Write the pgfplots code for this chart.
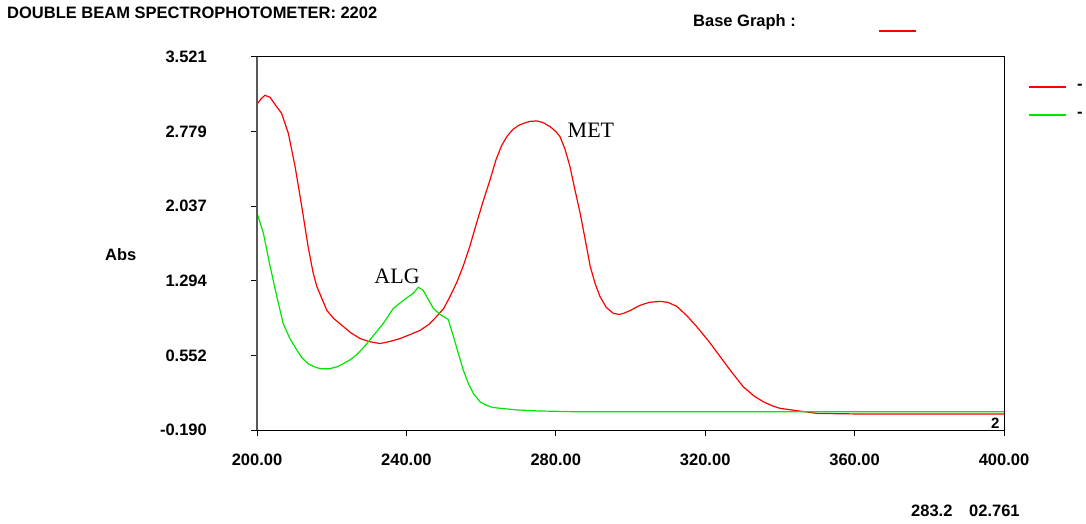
\documentclass[border=0pt]{standalone}
\usepackage{pgfplots}
\pgfplotsset{compat=1.18}
\usepackage{fontspec}
\setmainfont{Liberation Sans}
\newfontfamily\sansb{Liberation Sans}
\newfontfamily\timesf{Liberation Serif}
\definecolor{specred}{RGB}{255,0,0}
\definecolor{specgreen}{RGB}{0,230,0}
\newcommand{\lbl}{\sansb\bfseries\fontsize{16.5}{17}\selectfont}
\begin{document}
\begin{tikzpicture}[x=1pt,y=1pt]
\useasboundingbox (0,0) rectangle (1086,523);
% header texts
\node[anchor=west,inner sep=0pt,font=\lbl] at (7,510) {DOUBLE BEAM SPECTROPHOTOMETER: 2202};
\node[anchor=west,inner sep=0pt,font=\lbl] at (693,501) {Base Graph :};
\draw[specred,line width=1.2pt] (879,492) -- (916,492);
\draw[specred,line width=1.2pt] (1029,436) -- (1066,436);
\draw[specgreen,line width=1.2pt] (1029,408) -- (1066,408);
\node[anchor=west,inner sep=0pt,font=\lbl] at (1077,436) {-};
\node[anchor=west,inner sep=0pt,font=\lbl] at (1077,408) {-};
\node[anchor=west,inner sep=0pt,font=\lbl] at (105,268) {Abs};
\node[anchor=west,inner sep=0pt,font=\lbl] at (911,12) {283.2};
\node[anchor=west,inner sep=0pt,font=\lbl] at (969,12) {02.761};
\begin{axis}[
  at={(257pt,93pt)}, anchor=south west,
  width=747pt, height=373pt, scale only axis,
  xmin=200, xmax=400, ymin=-0.190, ymax=3.521,
  xtick={200,240,280,320,360,400},
  xticklabels={200.00,240.00,280.00,320.00,360.00,400.00},
  ytick={-0.190,0.552,1.294,2.037,2.779,3.521},
  yticklabels={-0.190,0.552,1.294,2.037,2.779,3.521},
  xtick pos=bottom, ytick pos=left,
  tick align=outside, major tick length=6pt,
  tick style={black,line width=1pt},
  axis line style={black,line width=1pt},
  ticklabel style={font=\lbl},
  yticklabel style={anchor=east,inner sep=0pt,xshift=-44pt},
  xticklabel style={anchor=center,inner sep=0pt,yshift=-24pt},
  clip=false,
]
\addplot[specred,line width=1.2pt] coordinates {
(200,3.05) (201,3.10) (202.1,3.14) (203.5,3.12) (205,3.04) (206.6,2.96)
(208.4,2.76) (210.2,2.43) (212.0,2.03) (213.7,1.63) (215,1.38) (216.0,1.24)
(218.7,1.00) (220.5,0.92) (223.1,0.84) (225,0.78) (227.6,0.72) (230,0.69)
(232.9,0.67) (235.5,0.69) (238.3,0.72) (241,0.76) (243.6,0.80) (246,0.86)
(248.1,0.94) (250,1.02) (251.7,1.14) (253.5,1.28) (255.2,1.44) (257,1.64)
(258.8,1.87) (260.5,2.08) (262.4,2.30) (264,2.50) (265.5,2.64) (266.9,2.73)
(268.5,2.80) (270,2.84) (271.3,2.86) (273,2.88) (274.9,2.885) (276.5,2.87)
(278.4,2.83) (280,2.78) (281.1,2.73) (282.5,2.60) (283.8,2.43) (285,2.22)
(286.5,1.97) (288,1.68) (289.2,1.44) (290.5,1.27) (291.8,1.14) (293.5,1.03)
(295.4,0.97) (297,0.96) (298.1,0.97) (300,1.00) (302.5,1.05) (305,1.08)
(307.9,1.09) (310,1.08) (312.4,1.04) (315,0.95) (317.7,0.84) (321,0.69)
(324,0.54) (327,0.39) (330.2,0.24) (333,0.15) (335.6,0.09) (338,0.05)
(340,0.026) (343,0.01) (346,-0.005) (350,-0.025) (360,-0.03) (400,-0.03)
};
\addplot[specgreen,line width=1.2pt] coordinates {
(200,1.97) (201.7,1.77) (203.5,1.44) (205.3,1.14) (207,0.87) (208.8,0.72)
(210.6,0.61) (212,0.53) (213.7,0.47) (215.3,0.44) (216.9,0.42) (219.5,0.42)
(221.5,0.44) (223.1,0.47) (225,0.51) (226.7,0.56) (228.5,0.63) (230.3,0.71)
(233.8,0.87) (236.5,1.02) (239.2,1.10) (241.8,1.17) (243.2,1.23) (244.5,1.20)
(246,1.10) (247.2,1.02) (249,0.96) (251.2,0.91) (252.6,0.74) (254,0.56)
(255.2,0.41) (256.5,0.28) (257.9,0.175) (259.7,0.09) (261.5,0.055) (263,0.035)
(265.1,0.026) (269.5,0.01) (275,0.0) (284.6,-0.008) (400,-0.008)
};
\draw[gray!70!black,line width=1.6pt] (rel axis cs:0,0) -- (rel axis cs:0,1);
\node[font=\timesf\fontsize{22}{22}\selectfont,inner sep=0pt] at (axis cs:289.4,2.795) {MET};
\node[font=\timesf\fontsize{22}{22}\selectfont,inner sep=0pt] at (axis cs:237.5,1.342) {ALG};
\node[font=\sansb\bfseries\fontsize{15}{15}\selectfont,inner sep=0pt] at (axis cs:397.7,-0.12) {2};
\end{axis}
\end{tikzpicture}
\end{document}
